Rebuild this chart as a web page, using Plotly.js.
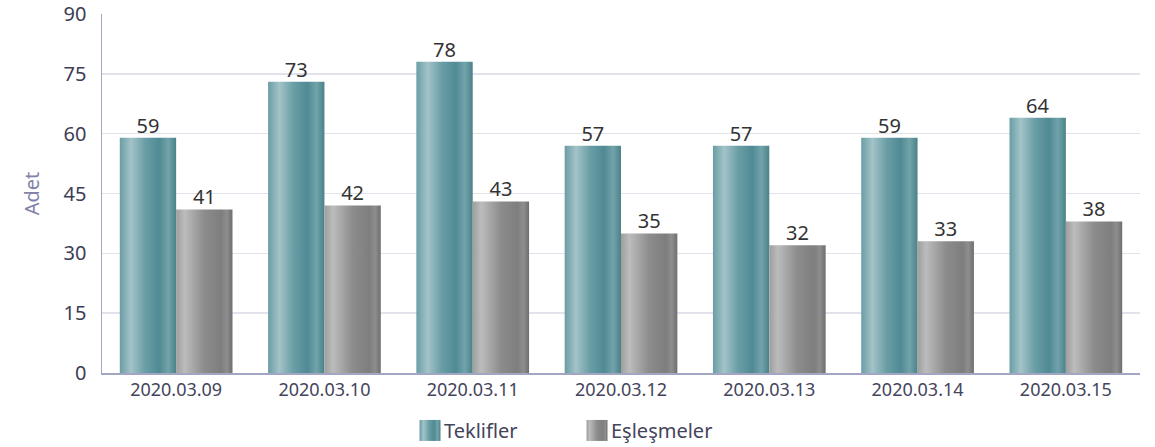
<!DOCTYPE html>
<html>
<head>
<meta charset="utf-8">
<script src="https://cdn.plot.ly/plotly-3.0.1.min.js"></script>
<style>html,body{margin:0;padding:0;background:#fff}#chart{width:1155px;height:447px}</style>
</head>
<body>
<div id="chart"></div>
<script>
const categories = ["2020.03.09","2020.03.10","2020.03.11","2020.03.12","2020.03.13","2020.03.14","2020.03.15"];
const teklifler = [59, 73, 78, 57, 57, 59, 64];
const eslesmeler = [41, 42, 43, 35, 32, 33, 38];
const seriesNames = ["Teklifler", "Eşleşmeler"];
const yTicks = [0, 15, 30, 45, 60, 75, 90];

const FONT = '"Noto Sans", "Open Sans", sans-serif';
const textFont = {family: FONT, size: 20, color: '#333333'};

const data = [
  {type:'bar', name:seriesNames[0], x:categories, y:teklifler, text:teklifler.map(String),
   textposition:'outside', textfont:textFont, cliponaxis:false,
   marker:{color:'#5f939b', line:{width:0}}},
  {type:'bar', name:seriesNames[1], x:categories, y:eslesmeler, text:eslesmeler.map(String),
   textposition:'outside', textfont:textFont, cliponaxis:false,
   marker:{color:'#8f8f8f', line:{width:0}}}
];

const layout = {
  width:1155, height:447,
  margin:{l:102, r:15, t:14, b:74, autoexpand:false},
  paper_bgcolor:'#ffffff', plot_bgcolor:'#ffffff',
  barmode:'group', bargap:0.24, bargroupgap:0,
  font:{family:FONT, color:'#3d3d55'},
  xaxis:{type:'category', tickfont:{size:18, color:'#44445c'}, showline:true, linecolor:'#a3a6c2', linewidth:1.5,
         ticks:'', showgrid:false, fixedrange:true, ticklabelstandoff:0},
  yaxis:{range:[0,90], tickvals:yTicks, ticktext:yTicks.map(String), tickfont:{size:20, color:'#3d3d55'},
         showline:true, linecolor:'#a3a6c2', linewidth:1.5, gridcolor:'#e2e2ec', gridwidth:1.5,
         zeroline:false, ticks:'', ticklabelstandoff:10,
         title:{text:'Adet', font:{size:20, color:'#8282a8'}, standoff:18}},
  showlegend:true,
  legend:{orientation:'h', x:(404-102)/1038, xanchor:'left', y:-0.16, yanchor:'middle',
          font:{size:20, color:'#44445c'}, itemwidth:30, traceorder:'normal', entrywidth:122}
};

function applyGradients(){
  const svg = document.querySelector('#chart .main-svg');
  const ns = 'http://www.w3.org/2000/svg';
  let defs = svg.querySelector('defs');
  if(!defs){defs = document.createElementNS(ns,'defs'); svg.insertBefore(defs, svg.firstChild);}
  const grads = [
    [[0,'#6a9da5'],[0.2,'#a3c3c8'],[0.45,'#6a9ea6'],[0.7,'#508a94'],[0.86,'#72a3aa'],[1,'#4a828a']],
    [[0,'#9e9e9e'],[0.15,'#bcbcbc'],[0.5,'#8c8c8c'],[0.8,'#7e7e7e'],[0.9,'#8e8e8e'],[1,'#6e6e6e']]
  ];
  grads.forEach((stops,i)=>{
    const g = document.createElementNS(ns,'linearGradient');
    g.setAttribute('id','bargrad'+i);
    g.setAttribute('x1','0'); g.setAttribute('x2','1'); g.setAttribute('y1','0'); g.setAttribute('y2','0');
    stops.forEach(s=>{
      const st = document.createElementNS(ns,'stop');
      st.setAttribute('offset', s[0]); st.setAttribute('stop-color', s[1]);
      g.appendChild(st);
    });
    defs.appendChild(g);
  });
  document.querySelectorAll('#chart .trace.bars').forEach((t,i)=>{
    t.querySelectorAll('.point path').forEach(p=>{p.style.fill='url(#bargrad'+i+')';});
    t.querySelectorAll('.point text').forEach(tx=>{
      const tr = tx.getAttribute('transform') || '';
      tx.setAttribute('transform','translate(0,4) ' + tr);
    });
  });
  document.querySelectorAll('#chart .legend .traces').forEach((t,i)=>{
    t.querySelectorAll('.legendpoints path').forEach(p=>{
      p.style.fill='url(#bargrad'+i+')';
      p.style.stroke='none';
      p.setAttribute('transform','translate(26,0) scale(1.75)');
    });
  });
}

Plotly.newPlot('chart', data, layout, {staticPlot:true, displayModeBar:false}).then(applyGradients);
</script>
</body>
</html>
